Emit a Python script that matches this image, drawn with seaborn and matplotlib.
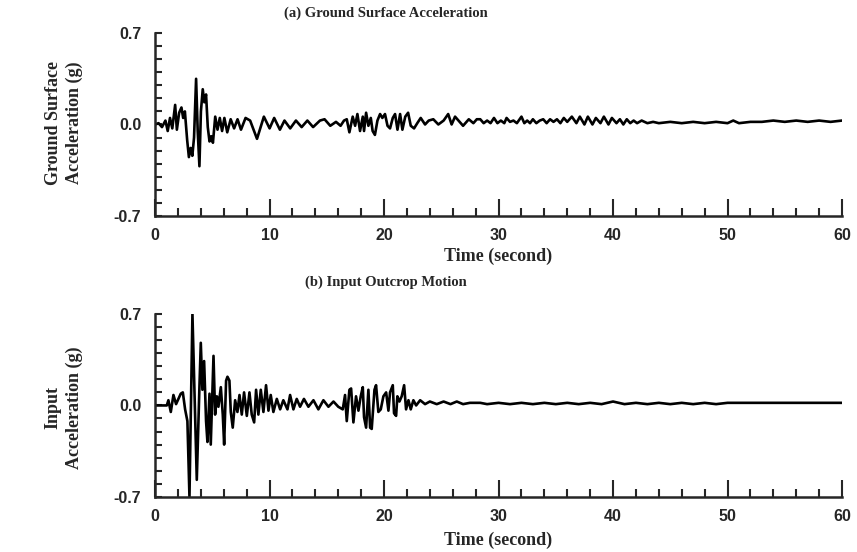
import matplotlib
matplotlib.use("Agg")
import matplotlib.pyplot as plt
from matplotlib.ticker import MultipleLocator
import seaborn as sns
import pandas as pd

# ---------------- data (turning points) ----------------
ground_t = [0.0, 0.3, 0.6, 0.9, 1.1, 1.3, 1.5, 1.75, 1.9, 2.1, 2.3, 2.45, 2.6, 2.8, 2.95,
            3.1, 3.25, 3.4, 3.58, 3.72, 3.87, 4.0, 4.16, 4.3, 4.45, 4.6, 4.75, 4.9, 5.05,
            5.25, 5.45, 5.65, 5.85, 6.05, 6.3, 6.6, 6.9, 7.2, 7.5, 7.9, 8.3, 8.9, 9.5,
            10.0, 10.4, 10.9, 11.3, 11.8, 12.3, 12.8, 13.3, 13.8, 14.4, 14.8, 15.3, 15.8,
            16.2, 16.5, 16.74, 16.97, 17.26, 17.47, 17.67, 17.9, 18.14, 18.25, 18.43,
            18.63, 18.84, 19.0, 19.2, 19.42, 19.65, 19.85, 20.08, 20.3, 20.52, 20.76,
            20.96, 21.17, 21.4, 21.6, 21.85, 22.1, 22.33, 22.62, 22.9, 23.2, 23.58, 23.9,
            24.3, 24.74, 25.2, 25.6, 25.9, 26.2, 26.5, 26.9, 27.4, 27.8, 28.1, 28.4, 28.7,
            29.0, 29.3, 29.6, 29.9, 30.2, 30.5, 30.7, 31.0, 31.3, 31.6, 32.0, 32.25, 32.5,
            32.75, 33.0, 33.3, 33.6, 33.9, 34.2, 34.5, 34.8, 35.1, 35.4, 35.7, 36.0, 36.4,
            36.8, 37.1, 37.5, 37.8, 38.2, 38.5, 38.9, 39.2, 39.6, 39.9, 40.3, 40.6, 40.9,
            41.2, 41.5, 41.8, 42.1, 42.5, 43.0, 43.5, 44.0, 45.0, 46.0, 47.0, 48.0, 49.0,
            50.0, 50.5, 51.0, 52.0, 53.0, 54.0, 55.0, 56.0, 57.0, 58.0, 59.0, 60.0]
ground_acc = [0.00, 0.01, -0.02, 0.03, -0.05, 0.05, -0.03, 0.15, -0.04, 0.09, 0.13, 0.05, 0.10,
              -0.12, -0.25, -0.18, -0.24, -0.10, 0.35, -0.05, -0.32, 0.10, 0.27, 0.17, 0.23,
              -0.02, -0.13, -0.09, -0.14, 0.06, -0.04, 0.05, -0.05, 0.05, -0.06, 0.04, -0.03,
              0.04, -0.04, 0.05, 0.03, -0.11, 0.06, -0.03, 0.05, -0.04, 0.03, -0.03, 0.03,
              -0.02, 0.03, -0.02, 0.03, 0.04, -0.01, 0.02, -0.01, 0.03, 0.04, -0.06, 0.06,
              -0.01, 0.08, -0.05, 0.06, -0.05, 0.09, -0.01, 0.05, -0.05, -0.08, 0.03, 0.08,
              0.05, 0.08, -0.01, -0.03, 0.05, 0.08, -0.04, 0.08, -0.04, 0.06, 0.09, -0.01,
              -0.03, 0.01, 0.05, 0.00, 0.03, 0.04, 0.00, 0.03, 0.08, 0.00, 0.06, 0.03, -0.01,
              0.04, 0.01, 0.04, 0.04, 0.01, 0.03, 0.01, 0.05, 0.01, 0.03, 0.01, 0.05, 0.02,
              0.03, 0.01, 0.06, 0.01, 0.03, 0.01, 0.04, 0.01, 0.03, 0.04, 0.01, 0.04, 0.02,
              0.04, 0.01, 0.05, 0.02, 0.06, 0.01, 0.06, 0.00, 0.06, 0.00, 0.05, 0.01, 0.06,
              0.00, 0.05, 0.01, 0.04, 0.00, 0.04, 0.01, 0.03, 0.01, 0.03, 0.01, 0.02, 0.01,
              0.02, 0.01, 0.02, 0.01, 0.02, 0.01, 0.03, 0.01, 0.02, 0.02, 0.03, 0.02, 0.03,
              0.02, 0.03, 0.02, 0.03]

input_t = [0.0, 0.5, 1.02, 1.16, 1.37, 1.6, 1.83, 2.04, 2.24, 2.42, 2.62, 2.82, 3.0, 3.26,
           3.64, 3.87, 3.99, 4.13, 4.28, 4.45, 4.57, 4.75, 4.86, 5.1, 5.24, 5.39, 5.53, 5.74,
           5.91, 6.03, 6.2, 6.32, 6.49, 6.61, 6.78, 6.99, 7.19, 7.37, 7.57, 7.77, 8.01, 8.24,
           8.44, 8.65, 8.82, 9.02, 9.23, 9.46, 9.69, 9.9, 10.1, 10.33, 10.63, 10.92, 11.2,
           11.56, 11.79, 12.08, 12.37, 12.66, 13.0, 13.39, 13.83, 14.26, 14.7, 15.14, 15.58,
           16.0, 16.39, 16.59, 16.74, 16.97, 17.12, 17.32, 17.55, 17.76, 17.96, 18.14, 18.25,
           18.43, 18.63, 18.78, 18.92, 19.16, 19.3, 19.5, 19.71, 19.94, 20.18, 20.38, 20.52,
           20.76, 20.87, 21.05, 21.16, 21.34, 21.54, 21.75, 21.92, 22.13, 22.33, 22.56, 22.8,
           23.15, 23.58, 24.0, 24.6, 25.2, 25.8, 26.35, 26.9, 27.5, 28.4, 29.0, 30.0, 31.0,
           32.0, 33.0, 34.0, 35.0, 36.0, 37.0, 38.0, 39.0, 40.0, 41.0, 42.0, 43.0, 44.0, 45.0,
           46.0, 47.0, 48.0, 49.0, 50.0, 52.0, 54.0, 56.0, 58.0, 60.0]
input_acc = [0.00, 0.00, 0.00, 0.04, -0.05, 0.08, 0.01, 0.05, 0.09, 0.10, -0.03, -0.12, -0.70,
             0.70, -0.57, 0.14, 0.48, 0.12, 0.34, -0.12, -0.28, 0.09, -0.30, 0.38, -0.07, 0.07,
             -0.01, 0.14, -0.07, -0.30, 0.19, 0.22, 0.19, -0.05, -0.17, 0.04, -0.05, 0.08,
             -0.07, 0.10, -0.08, 0.10, -0.07, -0.13, 0.12, -0.07, 0.12, -0.05, 0.155, -0.04,
             0.08, -0.05, 0.05, -0.03, 0.04, -0.03, 0.08, -0.03, 0.05, -0.01, 0.05, -0.01,
             0.04, -0.03, 0.04, -0.01, 0.03, -0.01, -0.03, 0.08, -0.12, 0.12, 0.13, -0.13,
             0.07, -0.04, 0.07, 0.14, -0.09, -0.17, 0.12, -0.17, -0.18, 0.12, 0.155, -0.05,
             -0.03, 0.07, 0.10, -0.04, 0.10, 0.155, -0.06, -0.08, 0.07, 0.03, 0.07, 0.155,
             -0.03, 0.04, -0.03, 0.04, 0.00, 0.04, 0.01, 0.03, 0.01, 0.03, 0.01, 0.03, 0.01,
             0.02, 0.02, 0.01, 0.02, 0.01, 0.02, 0.01, 0.02, 0.01, 0.02, 0.01, 0.02, 0.01,
             0.03, 0.01, 0.02, 0.01, 0.02, 0.01, 0.02, 0.01, 0.02, 0.01, 0.02, 0.02, 0.02,
             0.02, 0.02, 0.02]

titles = ["(a) Ground Surface Acceleration", "(b) Input Outcrop Motion"]
ylabels = ["Ground Surface\nAcceleration (g)", "Input\nAcceleration (g)"]
xlabel = "Time (second)"
ytick_vals = [-0.7, 0.0, 0.7]
ytick_labels = ["-0.7", "0.0", "0.7"]
xtick_vals = [0, 10, 20, 30, 40, 50, 60]

# ---------------- style ----------------
sns.set_style("ticks")
plt.rcParams["font.family"] = ["Liberation Serif", "DejaVu Serif"]
plt.rcParams["font.weight"] = "bold"

fig = plt.figure(figsize=(8.57, 5.52), dpi=100)
ax_a = fig.add_axes([0.181, 0.609, 0.8015, 0.331])
ax_b = fig.add_axes([0.181, 0.100, 0.8015, 0.331])

frames = [pd.DataFrame({"t": ground_t, "acc": ground_acc}),
          pd.DataFrame({"t": input_t, "acc": input_acc})]
axes = [ax_a, ax_b]
title_y = [0.976, 0.489]
ylab_y = [0.51, 0.49]
xlab_pad = [3, 5]

for ax, df, ttl, yl, ty, ly, xp in zip(axes, frames, titles, ylabels, title_y, ylab_y, xlab_pad):
    sns.lineplot(data=df, x="t", y="acc", ax=ax, color="black", linewidth=1.9,
                 estimator=None, sort=False)
    ax.set_xlim(0, 60)
    ax.set_ylim(-0.7, 0.7)
    sns.despine(ax=ax)
    for s in ["left", "bottom"]:
        ax.spines[s].set_linewidth(1.8)
    ax.set_yticks(ytick_vals)
    ax.set_yticklabels(ytick_labels, fontsize=11.5, fontweight="bold",
                       family=["Liberation Sans", "DejaVu Sans"])
    ax.yaxis.set_minor_locator(MultipleLocator(0.1))
    ax.set_xticks(xtick_vals)
    ax.set_xticklabels([str(v) for v in xtick_vals], fontsize=11.5, fontweight="bold",
                       family=["Liberation Sans", "DejaVu Sans"])
    ax.xaxis.set_minor_locator(MultipleLocator(2))
    ax.tick_params(axis="y", which="both", direction="in", length=5, width=1.5, pad=10)
    ax.tick_params(axis="x", which="major", direction="in", length=12, width=1.5, pad=9)
    ax.tick_params(axis="x", which="minor", direction="in", length=6, width=1.5)
    ax.set_xlabel(xlabel, fontsize=13, fontweight="bold", labelpad=xp)
    ax.set_ylabel(yl, fontsize=13, fontweight="bold", linespacing=1.3)
    ax.yaxis.set_label_coords(-0.105, ly)
    fig.text(0.45, ty, ttl, ha="center", va="center", fontsize=10.5, fontweight="bold")

fig.savefig("out.png", dpi=100)
